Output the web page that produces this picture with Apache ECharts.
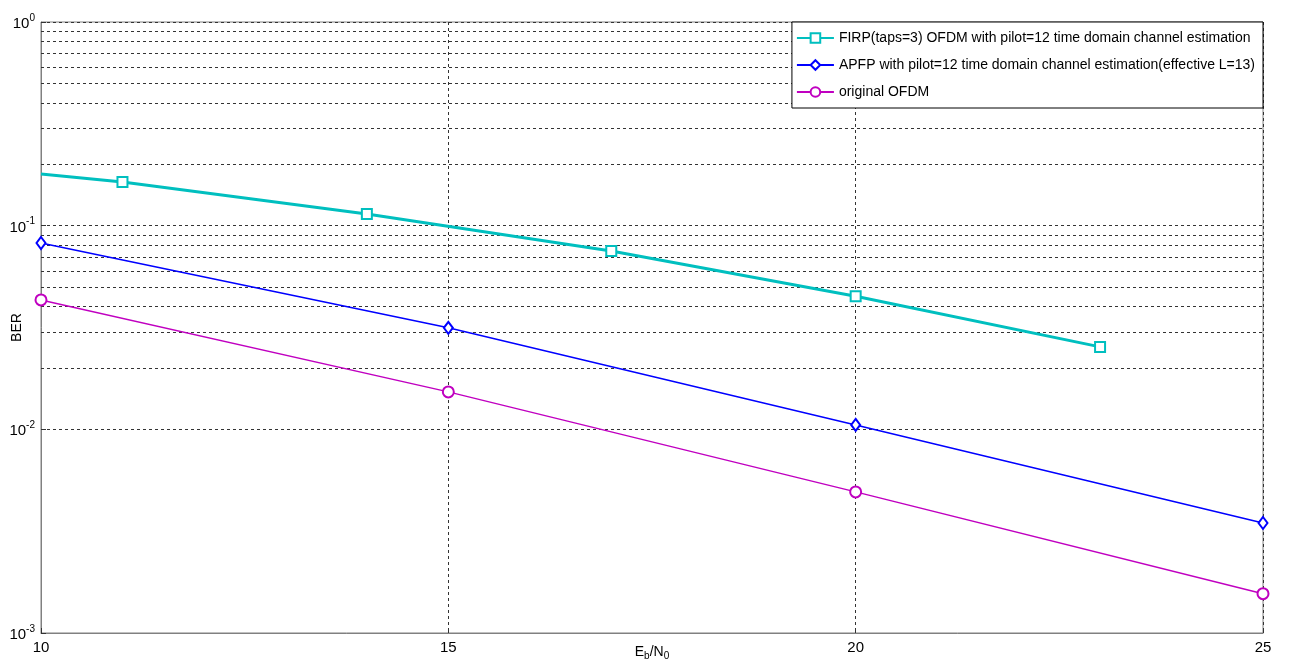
<!DOCTYPE html>
<html>
<head>
<meta charset="utf-8">
<script src="https://cdn.jsdelivr.net/npm/echarts@6/dist/echarts.min.js"></script>
<style>
html,body{margin:0;padding:0;background:#fff;}
#chart{width:1292px;height:664px;}
</style>
</head>
<body>
<div id="chart"></div>
<script>
// ---- data ----
const seriesNames = [
  'FIRP(taps=3) OFDM with pilot=12 time domain channel estimation',
  'APFP with pilot=12 time domain channel estimation(effective L=13)',
  'original OFDM'
];
const firpX = [10, 11, 14, 17, 20, 23];
const firpY = [0.1795, 0.1638, 0.1141, 0.0751, 0.0450, 0.0254];
const apfpX = [10, 15, 20, 25];
const apfpY = [0.0822, 0.0315, 0.01051, 0.00347];
const ofdmX = [10, 15, 20, 25];
const ofdmY = [0.0432, 0.01527, 0.00493, 0.00156];
const xTicks = [10, 15, 20, 25];
const yMajorTicks = [0.001, 0.01, 0.1, 1];
const yMinorGrid = [
  0.002,0.003,0.004,0.005,0.006,0.007,0.008,0.009,
  0.02,0.03,0.04,0.05,0.06,0.07,0.08,0.09,
  0.2,0.3,0.4,0.5,0.6,0.7,0.8,0.9
];

const FONT = '"Liberation Sans", Arial, sans-serif';
const gridLine = {color: '#333', width: 1, type: [3, 3]};

const chart = echarts.init(document.getElementById('chart'));

function pts(xs, ys) { return xs.map((x, i) => [x, ys[i]]); }

const firpData = pts(firpX, firpY).map((p, i) => i === 0 ? {value: p, symbol: 'none'} : p);

chart.setOption({
  animation: false,
  backgroundColor: '#fff',
  grid: {left: 41, right: 29, top: 22, bottom: 31, containLabel: false, outerBoundsMode: 'none',
    show: true, borderColor: '#808080', borderWidth: 1, backgroundColor: 'transparent'},
  legend: {
    orient: 'vertical',
    right: 29, top: 22,
    backgroundColor: '#fff',
    borderColor: '#000', borderWidth: 1,
    padding: [9, 8, 9, 4],
    itemWidth: 37, itemHeight: 12, itemGap: 13,
    textStyle: {fontFamily: FONT, fontSize: 14, color: '#000'},
    data: seriesNames,
    z: 10
  },
  xAxis: {
    type: 'value', min: 10, max: 25, interval: 5,
    name: '{b|E}{s|b}{b|/N}{s|0}', nameLocation: 'middle', nameGap: 10, nameMoveOverlap: false,
    nameTextStyle: {fontFamily: FONT, color: '#000', rich: {
      b: {fontFamily: FONT, fontSize: 14, color: '#000'},
      s: {fontFamily: FONT, fontSize: 10, color: '#000', padding: [8, 0, 0, 0]}
    }},
    axisLine: {show: true, lineStyle: {color: '#808080'}},
    axisTick: {show: true, inside: true, length: 5, lineStyle: {color: '#333'}},
    axisLabel: {fontFamily: FONT, fontSize: 15, color: '#000', margin: 7,
      formatter: v => xTicks.includes(v) ? String(v) : ''},
    splitLine: {show: true, lineStyle: gridLine}
  },
  yAxis: {
    type: 'log', logBase: 10, min: yMajorTicks[0], max: yMajorTicks[yMajorTicks.length - 1],
    name: 'BER', nameLocation: 'middle', nameGap: 17, nameMoveOverlap: false,
    nameTextStyle: {fontFamily: FONT, fontSize: 14, color: '#000'},
    axisLine: {show: true, lineStyle: {color: '#808080'}},
    axisTick: {show: true, inside: true, length: 5, lineStyle: {color: '#333'}},
    axisLabel: {
      margin: 6,
      formatter: v => '{b|10}{s|' + Math.round(Math.log10(v)) + '}',
      rich: {
        b: {fontFamily: FONT, fontSize: 15, color: '#000', padding: [4, 0, 0, 0]},
        s: {fontFamily: FONT, fontSize: 10, color: '#000', padding: [0, 0, 8, 0]}
      }
    },
    splitLine: {show: true, lineStyle: gridLine}
  },
  series: [
    {
      name: seriesNames[0], type: 'line', data: firpData,
      symbol: 'emptyRect', symbolSize: 10,
      lineStyle: {color: '#00BFBF', width: 3},
      itemStyle: {color: '#00BFBF', borderColor: '#00BFBF', borderWidth: 3.5},
      z: 5,
      markLine: {
        silent: true, symbol: 'none', label: {show: false},
        lineStyle: gridLine, animation: false, z: 1,
        data: yMinorGrid.map(v => ({yAxis: v}))
      }
    },
    {
      name: seriesNames[1], type: 'line', data: pts(apfpX, apfpY),
      symbol: 'emptyDiamond', symbolSize: [9, 12],
      lineStyle: {color: '#0000FF', width: 1.5},
      itemStyle: {color: '#0000FF', borderColor: '#0000FF', borderWidth: 1.5},
      z: 4
    },
    {
      name: seriesNames[2], type: 'line', data: pts(ofdmX, ofdmY),
      symbol: 'emptyCircle', symbolSize: 11,
      lineStyle: {color: '#C000C0', width: 1.5},
      itemStyle: {color: '#C000C0', borderColor: '#C000C0', borderWidth: 1.5},
      z: 4
    }
  ]
});
</script>
</body>
</html>
